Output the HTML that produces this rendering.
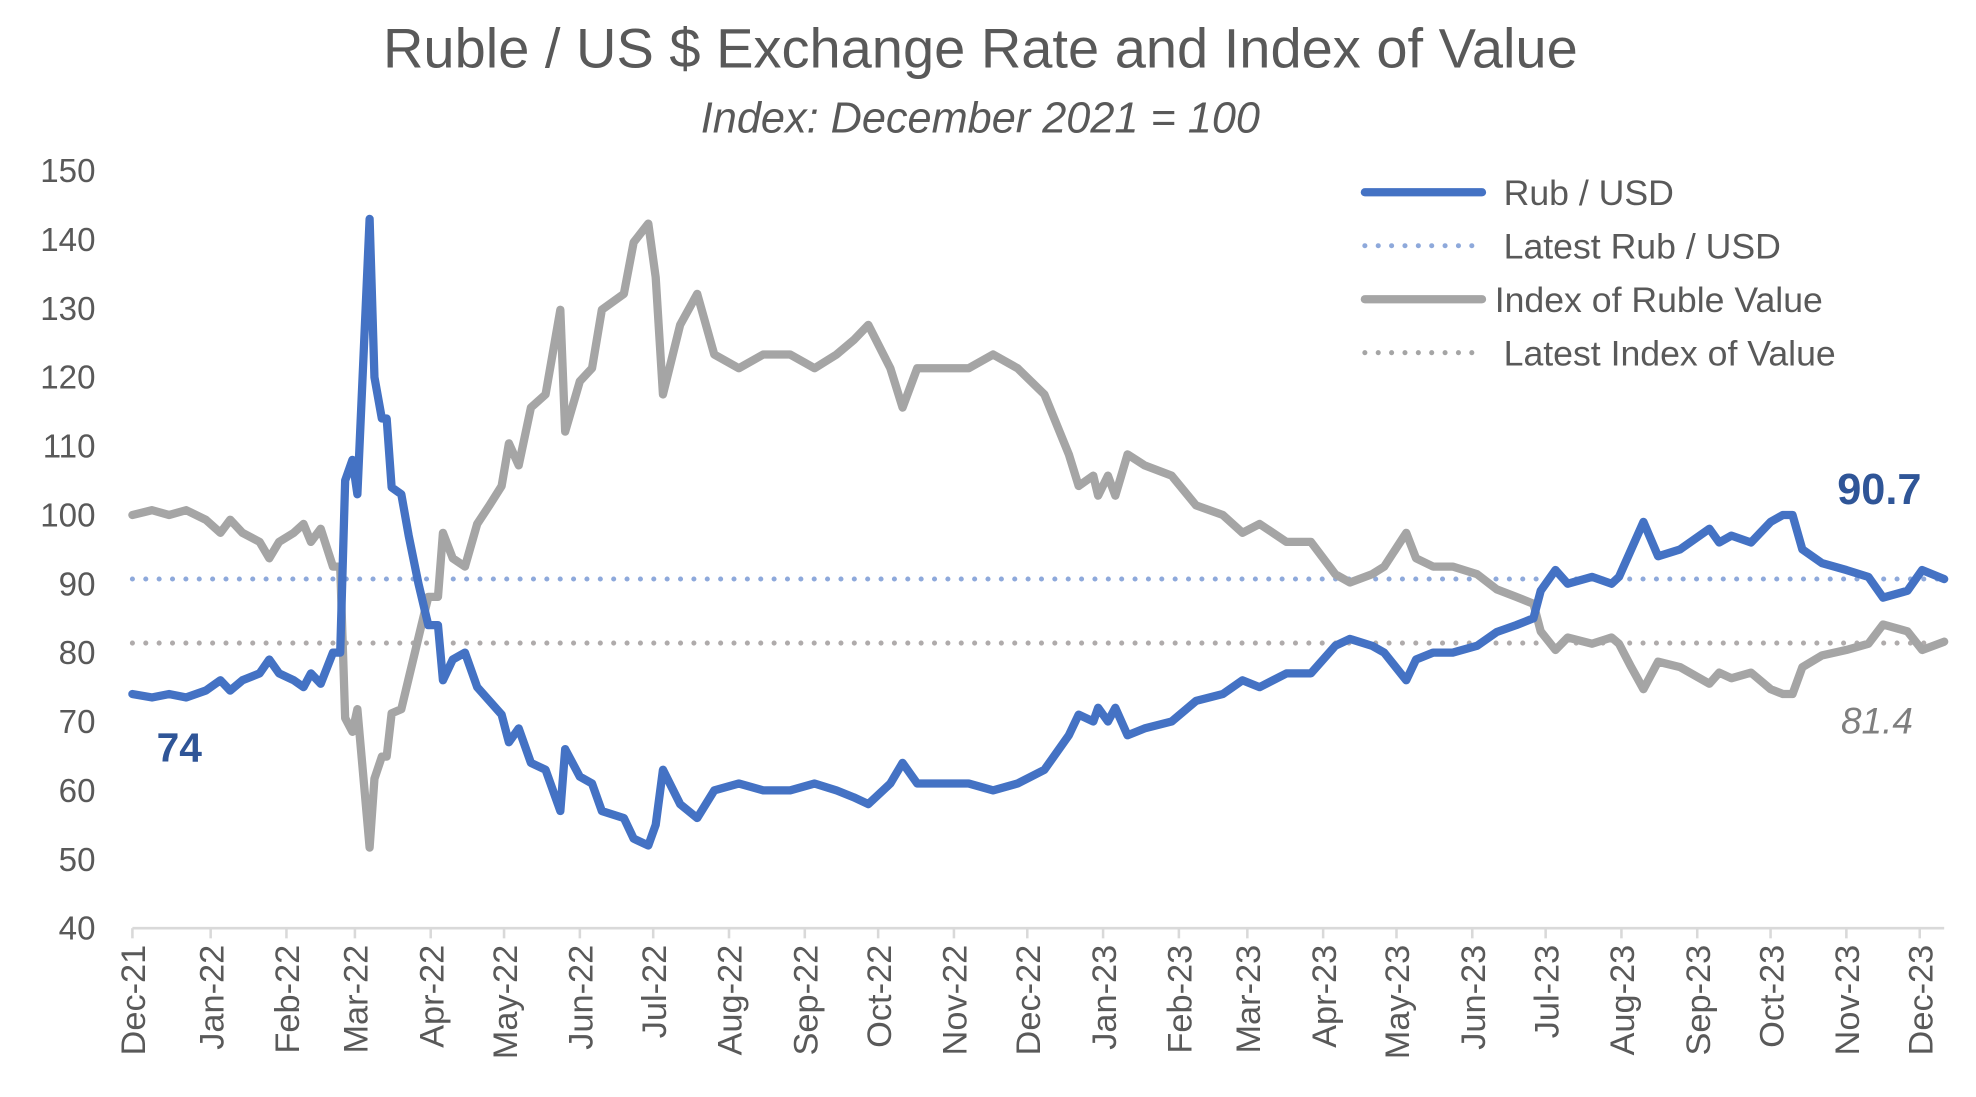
<!DOCTYPE html>
<html><head><meta charset="utf-8"><style>
html,body{margin:0;padding:0;background:#fff;}
svg{display:block;font-family:"Liberation Sans Narrow","Liberation Sans",sans-serif;}
</style></head><body>
<svg id="chart" width="1976" height="1097" viewBox="0 0 1552 861.6" xmlns="http://www.w3.org/2000/svg">
<rect width="1552" height="862" fill="#fff"/>
<text x="770" y="53" text-anchor="middle" font-family="Liberation Sans, sans-serif" font-size="44" fill="#595959">Ruble / US $ Exchange Rate and Index of Value</text>
<text x="770" y="104" text-anchor="middle" font-family="Liberation Sans, sans-serif" font-style="italic" font-size="34" fill="#595959">Index: December 2021 = 100</text>
<g id="yaxis"></g>
<g id="xaxis"></g>
<g id="series"></g>
<g font-family="Liberation Sans, sans-serif" font-size="28" fill="#595959">
 <line x1="1072" y1="151" x2="1164" y2="151" stroke="#4472C4" stroke-width="6.5" stroke-linecap="round"/>
 <text x="1181" y="161">Rub / USD</text>
 <line x1="1072" y1="193" x2="1164" y2="193" stroke="#8EA9DB" stroke-width="4" stroke-dasharray="0 10.5" stroke-linecap="round"/>
 <text x="1181" y="203">Latest Rub / USD</text>
 <line x1="1072" y1="235" x2="1164" y2="235" stroke="#A5A5A5" stroke-width="6.5" stroke-linecap="round"/>
 <text x="1174" y="245">Index of Ruble Value</text>
 <line x1="1072" y1="277" x2="1164" y2="277" stroke="#A5A5A5" stroke-width="4" stroke-dasharray="0 10.5" stroke-linecap="round"/>
 <text x="1181" y="287">Latest Index of Value</text>
</g>
<text x="123" y="598" font-family="Liberation Sans, sans-serif" font-weight="bold" font-size="32" fill="#2F5597">74</text>
<text x="1443" y="396" font-family="Liberation Sans, sans-serif" font-weight="bold" font-size="34" fill="#2F5597">90.7</text>
<text x="1446" y="576" font-family="Liberation Sans, sans-serif" font-style="italic" font-size="29" fill="#7F7F7F">81.4</text>
</svg>
<script>
const days = [0,8,15,22,30,36,40,45,52,56,60,66,70,73,77,82,85,87,90,92,97,99,102,104,106,110,113,117,121,125,127,131,136,141,146,151,154,158,163,169,175,177,183,188,192,201,205,211,214,217,224,231,238,248,258,269,279,288,295,301,310,315,321,331,342,352,362,373,383,387,393,395,399,402,407,414,425,435,446,454,461,472,482,492,498,507,512,521,525,532,540,550,558,566,573,576,582,587,597,605,608,613,618,624,633,645,649,654,662,670,675,679,683,691,701,710,716,726,732,741];
const rubUsd = [74,73.5,74,73.5,74.5,76,74.5,76,77,79,77,76,75,77,75.5,80,80,105,108,103,143,120,114,114,104,103,97,90,84,84,76,79,80,75,73,71,67,69,64,63,57,66,62,61,57,56,53,52,55,63,58,56,60,61,60,60,61,60,59,58,61,64,61,61,61,60,61,63,68,71,70,72,70,72,68,69,70,73,74,76,75,77,77,81,82,81,80,76,79,80,80,81,83,84,85,89,92,90,91,90,91,95,99,94,95,98,96,97,96,99,100,100,95,93,92,91,88,89,92,90.7];
const indexValue = [100,100.7,100,100.7,99.3,97.4,99.3,97.4,96.1,93.7,96.1,97.4,98.7,96.1,98,92.5,92.5,70.5,68.5,71.8,51.7,61.7,64.9,64.9,71.2,71.8,76.3,82.2,88.1,88.1,97.4,93.7,92.5,98.7,101.4,104.2,110.4,107.2,115.6,117.5,129.8,112.1,119.4,121.3,129.8,132.1,139.6,142.3,134.5,117.5,127.6,132.1,123.3,121.3,123.3,123.3,121.3,123.3,125.4,127.6,121.3,115.6,121.3,121.3,121.3,123.3,121.3,117.5,108.8,104.2,105.7,102.8,105.7,102.8,108.8,107.2,105.7,101.4,100,97.4,98.7,96.1,96.1,91.4,90.2,91.4,92.5,97.4,93.7,92.5,92.5,91.4,89.2,88.1,87.1,83.1,80.4,82.2,81.3,82.2,81.3,77.9,74.7,78.7,77.9,75.5,77.1,76.3,77.1,74.7,74,74,77.9,79.6,80.4,81.3,84.1,83.1,80.4,81.6];
const latestRub = 90.7;
const latestIndex = 81.4;
const yTicks = [40,50,60,70,80,90,100,110,120,130,140,150];
const monthLabels = ["Dec-21","Jan-22","Feb-22","Mar-22","Apr-22","May-22","Jun-22","Jul-22","Aug-22","Sep-22","Oct-22","Nov-22","Dec-22","Jan-23","Feb-23","Mar-23","Apr-23","May-23","Jun-23","Jul-23","Aug-23","Sep-23","Oct-23","Nov-23","Dec-23"];
const monthDays = [0,32,63,91,122,152,183,213,244,275,305,336,366,397,428,456,487,517,548,578,609,640,670,701,731];

const NS="http://www.w3.org/2000/svg";
const X0=104, X1=1527, Y0=729, Y1=134;
const dMax=741;
function xs(d){return X0+(d/dMax)*(X1-X0);}
function ys(v){return Y0-(v-40)/(150-40)*(Y0-Y1);}
function mk(tag,parent,attrs){const e=document.createElementNS(NS,tag);for(const k in attrs)e.setAttribute(k,attrs[k]);parent.appendChild(e);return e;}

const ya=document.getElementById('yaxis');
yTicks.forEach(t=>{
  const tx=mk('text',ya,{x:75,y:ys(t)+9,'text-anchor':'end','font-size':26,fill:'#595959','font-family':'Liberation Sans, sans-serif'});
  tx.textContent=t;
  
  
});
const xa=document.getElementById('xaxis');
const ax=mk('line',xa,{x1:X0,y1:Y0,x2:X1,y2:Y0,stroke:'#D9D9D9','stroke-width':2});


monthLabels.forEach((m,i)=>{
  const x=xs(monthDays[i]);
  const tk=mk('line',xa,{x1:x,y1:Y0,x2:x,y2:Y0+8,stroke:'#D9D9D9','stroke-width':2});
  
  
  const tx=mk('text',xa,{x:0,y:0,'text-anchor':'end','font-size':27,fill:'#595959',transform:`translate(${x+10},${Y0+13}) rotate(-90)`});
  tx.textContent=m;
  
  
});
const sg=document.getElementById('series');
const lr=mk('line',sg,{x1:X0,y1:ys(latestRub),x2:X1,y2:ys(latestRub),stroke:'#8EA9DB','stroke-width':4,'stroke-dasharray':'0 10.5','stroke-linecap':'round'});


const li=mk('line',sg,{x1:X0,y1:ys(latestIndex),x2:X1,y2:ys(latestIndex),stroke:'#AFABAB','stroke-width':4,'stroke-dasharray':'0 10.5','stroke-linecap':'round'});


function pts(arr){return arr.map((v,i)=>xs(days[i]).toFixed(1)+','+ys(v).toFixed(1)).join(' ');}
const gi=mk('polyline',sg,{points:pts(indexValue),fill:'none',stroke:'#A5A5A5','stroke-width':6.5,'stroke-linejoin':'round','stroke-linecap':'round'});


const br=mk('polyline',sg,{points:pts(rubUsd),fill:'none',stroke:'#4472C4','stroke-width':6.5,'stroke-linejoin':'round','stroke-linecap':'round'});


</script>
</body></html>
